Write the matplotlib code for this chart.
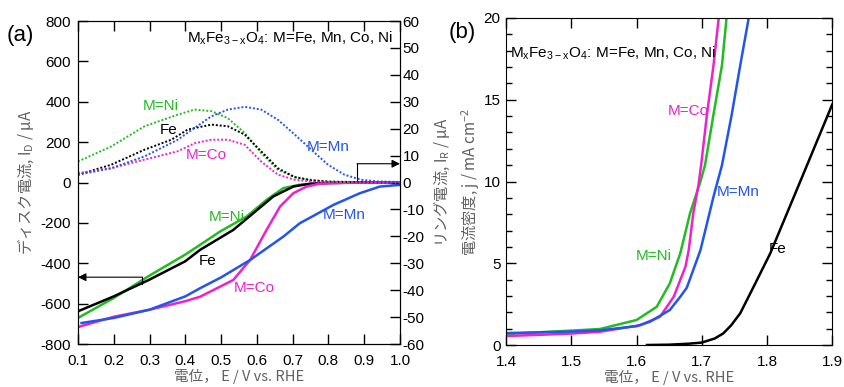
import matplotlib
matplotlib.use("Agg")
import matplotlib.pyplot as plt
from matplotlib.ticker import MultipleLocator

plt.rcParams['font.family'] = ['Liberation Sans', 'Noto Sans CJK JP', 'DejaVu Sans']
plt.rcParams['mathtext.fontset'] = 'custom'
plt.rcParams['mathtext.rm'] = 'Liberation Sans'
plt.rcParams['mathtext.default'] = 'regular'
plt.rcParams['axes.unicode_minus'] = False
plt.rcParams['font.size'] = 11

GREEN = '#22bb22'
MAGENTA = '#ee22cc'
BLUE = '#2255ee'
BLACK = 'black'
LABEL_GRAY = '#606060'
JP = 'Noto Sans CJK JP'

# ---- (a) ring current (uA, right axis) ----
ring_e = [0.1, 0.193, 0.286, 0.379, 0.426, 0.473, 0.519, 0.566, 0.612, 0.659, 0.706, 0.752, 0.8, 0.9, 1.0]
ring_ni = [7.8, 13.4, 20.9, 25.2, 27.1, 26.5, 23.9, 18.4, 11.0, 4.7, 2.0, 1.0, 0.4, 0.1, 0.0]
ring_co = [3.5, 5.3, 8.5, 11.6, 14.6, 15.9, 15.9, 14.0, 7.8, 2.9, 1.0, 0.4, 0.2, 0.0, 0.0]
ring_fe_e = [0.1, 0.193, 0.286, 0.361, 0.407, 0.473, 0.519, 0.566, 0.612, 0.659, 0.706, 0.752, 0.8, 0.9, 1.0]
ring_fe = [2.9, 6.6, 12.2, 15.9, 19.7, 21.5, 20.9, 17.8, 11.6, 5.3, 2.0, 0.8, 0.3, 0.1, 0.0]
ring_mn_e = [0.1, 0.193, 0.286, 0.379, 0.426, 0.473, 0.519, 0.566, 0.612, 0.659, 0.706, 0.752,
             0.799, 0.845, 0.892, 0.938, 1.0]
ring_mn = [2.9, 5.3, 9.7, 15.9, 20.3, 24.6, 27.1, 28.1, 27.1, 23.3, 17.8, 12.2, 6.6, 2.9, 1.0, 0.4, 0.2]

# ---- (a) disk current (uA, left axis) ----
disk_ni_e = [0.1, 0.2, 0.3, 0.4, 0.441, 0.497, 0.571, 0.627, 0.674, 0.72, 0.8, 0.9, 1.0]
disk_ni = [-671, -572, -461, -357, -309, -243, -169, -86, -28, -11, -2, -1, -1]
disk_fe_e = [0.1, 0.2, 0.3, 0.4, 0.441, 0.534, 0.59, 0.646, 0.702, 0.748, 0.8, 0.9, 1.0]
disk_fe = [-638, -564, -481, -390, -334, -235, -152, -69, -20, -6, -2, -1, -1]
disk_co_e = [0.1, 0.2, 0.3, 0.4, 0.441, 0.534, 0.581, 0.627, 0.665, 0.702, 0.739, 0.776, 0.85, 1.0]
disk_co = [-716, -665, -630, -588, -566, -483, -384, -235, -119, -53, -20, -6, -1, -1]
disk_mn_e = [0.11, 0.2, 0.3, 0.4, 0.441, 0.5, 0.581, 0.674, 0.72, 0.814, 0.888, 0.944, 1.0]
disk_mn = [-696, -671, -630, -564, -524, -470, -384, -268, -202, -111, -53, -20, -12]

# ---- (b) OER current density (mA cm-2) ----
oer_ni_e = [1.4, 1.45, 1.5, 1.544, 1.6, 1.631, 1.651, 1.667, 1.682, 1.698, 1.705, 1.718, 1.731, 1.738]
oer_ni = [0.67, 0.78, 0.88, 0.98, 1.53, 2.34, 3.77, 5.6, 8.05, 10.0, 11.0, 14.1, 17.1, 20.0]
oer_co_e = [1.4, 1.45, 1.5, 1.544, 1.606, 1.636, 1.657, 1.675, 1.68, 1.687, 1.695, 1.699, 1.708, 1.718, 1.726]
oer_co = [0.55, 0.62, 0.7, 0.81, 1.22, 1.73, 2.95, 4.79, 5.8, 8.05, 9.8, 11.0, 14.1, 17.1, 20.0]
oer_mn_e = [1.4, 1.5, 1.544, 1.6, 1.621, 1.651, 1.667, 1.677, 1.698, 1.718, 1.731, 1.746, 1.759, 1.772]
oer_mn = [0.73, 0.82, 0.9, 1.15, 1.43, 2.14, 2.95, 3.5, 5.8, 9.07, 11.0, 14.1, 17.1, 20.0]
oer_fe_e = [1.616, 1.65, 1.68, 1.7, 1.72, 1.733, 1.745, 1.759, 1.78, 1.805, 1.85, 1.9]
oer_fe = [0.0, 0.02, 0.08, 0.15, 0.4, 0.71, 1.2, 1.94, 3.6, 5.6, 9.9, 14.7]

formula = 'M$_x$Fe$_{3-x}$O$_4$: M=Fe, Mn, Co, Ni'
xlab = '電位， E / V vs. RHE'

fig = plt.figure(figsize=(8.45, 3.87), dpi=100)
ax = fig.add_axes([0.0923, 0.1111, 0.381, 0.8346])
ax2 = ax.twinx()
axb = fig.add_axes([0.599, 0.1085, 0.3858, 0.845])

# disk (solid)
ax.plot(disk_ni_e, disk_ni, color=GREEN, lw=1.8)
ax.plot(disk_fe_e, disk_fe, color=BLACK, lw=1.8)
ax.plot(disk_co_e, disk_co, color=MAGENTA, lw=1.8)
ax.plot(disk_mn_e, disk_mn, color=BLUE, lw=1.8)

# ring (dotted)
dots = (0, (1, 1))
ax2.plot(ring_e, ring_ni, color=GREEN, lw=1.4, ls=dots)
ax2.plot(ring_fe_e, ring_fe, color=BLACK, lw=1.4, ls=dots)
ax2.plot(ring_e, ring_co, color=MAGENTA, lw=1.4, ls=dots)
ax2.plot(ring_mn_e, ring_mn, color=BLUE, lw=1.4, ls=dots)

ax.set_xlim(0.1, 1.0)
ax.set_ylim(-800, 800)
ax2.set_ylim(-60, 60)
ax.xaxis.set_major_locator(MultipleLocator(0.1))
ax.yaxis.set_major_locator(MultipleLocator(200))
ax2.yaxis.set_major_locator(MultipleLocator(10))
ax.tick_params(axis='x', direction='in', top=True, length=7, width=1, pad=7)
ax.tick_params(axis='y', direction='in', length=7, width=1, pad=5)
ax2.tick_params(axis='y', direction='in', length=7, width=1, pad=2)

ax.set_xlabel(xlab, color=LABEL_GRAY, family=JP, fontsize=10.5, labelpad=1)
ax.set_ylabel('ディスク電流, I$_D$ / μA', color=LABEL_GRAY, family=JP, labelpad=3)
ax2.set_ylabel('リング電流, I$_R$ / μA', color=LABEL_GRAY, family=JP, labelpad=5)

# curve labels (a)
ax.text(0.332, 380, 'M=Ni', color=GREEN, ha='center', va='center')
ax.text(0.352, 261, 'Fe', color=BLACK, ha='center', va='center')
ax.text(0.458, 137, 'M=Co', color=MAGENTA, ha='center', va='center')
ax.text(0.799, 177, 'M=Mn', color=BLUE, ha='center', va='center')
ax.text(0.516, -169, 'M=Ni', color=GREEN, ha='center', va='center')
ax.text(0.461, -388, 'Fe', color=BLACK, ha='center', va='center')
ax.text(0.592, -523, 'M=Co', color=MAGENTA, ha='center', va='center')
ax.text(0.845, -161, 'M=Mn', color=BLUE, ha='center', va='center')
ax.text(0.978, 0.947, formula, transform=ax.transAxes, ha='right', va='center')

# axis arrows
ax.plot([0.88, 0.88], [10, 93], color=BLACK, lw=0.8)
ax.annotate('', xy=(1.0, 93), xytext=(0.88, 93),
            arrowprops=dict(arrowstyle='-|>', color=BLACK, lw=0.8, mutation_scale=12,
                            shrinkA=0, shrinkB=0))
ax.plot([0.28, 0.28], [-505, -469], color=BLACK, lw=0.8)
ax.annotate('', xy=(0.1, -469), xytext=(0.28, -469),
            arrowprops=dict(arrowstyle='-|>', color=BLACK, lw=0.8, mutation_scale=12,
                            shrinkA=0, shrinkB=0))

# ---- (b) ----
axb.plot(oer_ni_e, oer_ni, color=GREEN, lw=1.8)
axb.plot(oer_co_e, oer_co, color=MAGENTA, lw=1.8)
axb.plot(oer_mn_e, oer_mn, color=BLUE, lw=1.8)
axb.plot(oer_fe_e, oer_fe, color=BLACK, lw=1.8)

axb.set_xlim(1.4, 1.9)
axb.set_ylim(0, 20)
axb.xaxis.set_major_locator(MultipleLocator(0.1))
axb.yaxis.set_major_locator(MultipleLocator(5))
axb.yaxis.set_minor_locator(MultipleLocator(1))
axb.tick_params(axis='x', which='major', direction='in', top=True, length=7, width=1, pad=7)
axb.tick_params(axis='y', which='major', direction='in', right=True, length=7, width=1, pad=4)
axb.tick_params(axis='y', which='minor', direction='in', right=True, length=4, width=1)

axb.set_xlabel(xlab, color=LABEL_GRAY, family=JP, fontsize=10.5, labelpad=1)
axb.set_ylabel('電流密度, j / mA cm$^{-2}$', color=LABEL_GRAY, family=JP, labelpad=1)

axb.text(1.68, 14.3, 'M=Co', color=MAGENTA, ha='center', va='center')
axb.text(1.756, 9.35, 'M=Mn', color=BLUE, ha='center', va='center')
axb.text(1.627, 5.44, 'M=Ni', color=GREEN, ha='center', va='center')
axb.text(1.816, 5.87, 'Fe', color=BLACK, ha='center', va='center')
axb.text(0.012, 0.893, formula, transform=axb.transAxes, ha='left', va='center')

fig.text(0.024, 0.907, '(a)', fontsize=16, ha='center', va='center')
fig.text(0.547, 0.915, '(b)', fontsize=16, ha='center', va='center')

fig.savefig('out.png', dpi=100)
